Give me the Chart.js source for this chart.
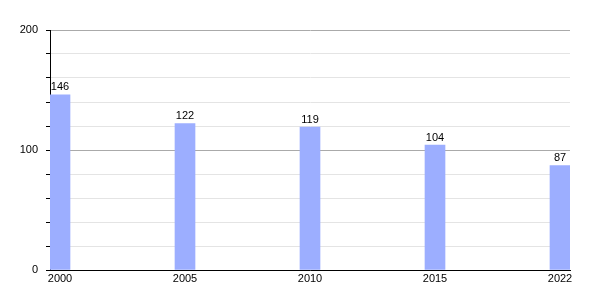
<!DOCTYPE html>
<html>
<head>
<meta charset="utf-8">
<script src="https://cdn.jsdelivr.net/npm/chart.js@4/dist/chart.umd.min.js"></script>
<style>
    html, body { margin: 0; padding: 0; background: #fff; }
    #wrap { width: 600px; height: 300px; }
</style>
</head>
<body>
<div id="wrap"><canvas id="popChart" width="600" height="300"></canvas></div>
<script>
// Chart data
const years = ['2000', '2005', '2010', '2015', '2022'];
const population = [146, 122, 119, 104, 87];
const yTickLabels = [0, 100, 200];

const FONT = 'Liberation Sans, Arial, sans-serif';

/**
 * Draw value labels above bars
 */
const valueLabels = {
    id: 'valueLabels',
    afterDatasetsDraw(chart) {
        const ctx = chart.ctx;
        const meta = chart.getDatasetMeta(0);
        ctx.save();
        ctx.font = '11px ' + FONT;
        ctx.fillStyle = '#000';
        ctx.textAlign = 'center';
        ctx.textBaseline = 'bottom';
        meta.data.forEach((bar, i) => {
            ctx.fillText(String(population[i]), bar.x, bar.y - 2);
        });
        ctx.restore();
    }
};

new Chart(document.getElementById('popChart'), {
    type: 'bar',
    data: {
        datasets: [{
            data: population.map((v, i) => ({ x: i, y: v })),
            backgroundColor: '#9caeff',
            borderWidth: 0,
            barThickness: 20
        }]
    },
    options: {
        responsive: false,
        animation: false,
        layout: { padding: { left: 0, top: 30, right: 30, bottom: 12 } },
        plugins: {
            legend: { display: false },
            tooltip: { enabled: false }
        },
        scales: {
            x: {
                type: 'linear',
                offset: false,
                min: -0.08,
                max: 4.08,
                afterBuildTicks: (scale) => {
                    scale.ticks = years.map((y, i) => ({ value: i }));
                },
                afterFit: (scale) => { scale.height = 18; },
                grid: { display: false, drawTicks: false },
                border: { display: true, color: '#000', width: 1 },
                ticks: {
                    color: '#000',
                    font: { family: FONT, size: 11 },
                    padding: 2,
                    maxRotation: 0,
                    autoSkip: false,
                    callback: (v) => years[v] !== undefined ? years[v] : ''
                }
            },
            y: {
                min: 0,
                max: 200,
                afterFit: (scale) => { scale.width = 50; },
                border: { display: true, color: '#000', width: 1 },
                grid: {
                    color: (c) => (c.tick && c.tick.value % 100 === 0) ? '#aaaaaa' : '#e4e4e4',
                    tickColor: '#000',
                    tickLength: 4,
                    drawTicks: true
                },
                ticks: {
                    stepSize: 20,
                    color: '#000',
                    font: { family: FONT, size: 11 },
                    padding: 8,
                    callback: (v) => yTickLabels.includes(v) ? String(v) : ''
                }
            }
        }
    },
    plugins: [valueLabels]
});
</script>
</body>
</html>
